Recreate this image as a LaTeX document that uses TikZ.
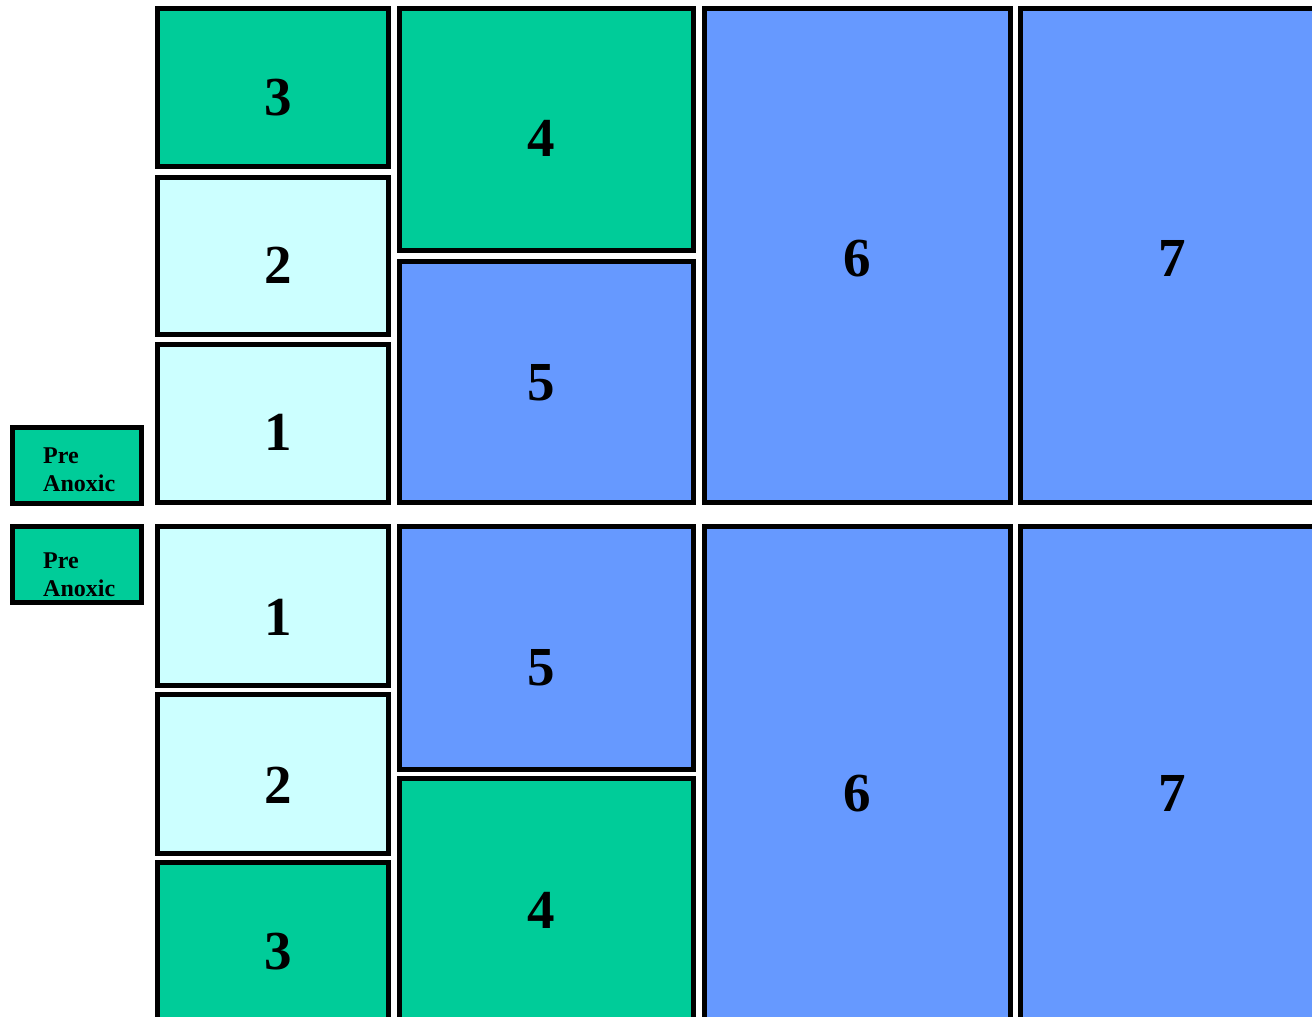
\documentclass[tikz,border=0pt]{standalone}
\usepackage{fontspec}
\setmainfont{Liberation Serif}
\definecolor{grn}{HTML}{00CC99}
\definecolor{cyn}{HTML}{CCFFFF}
\definecolor{blu}{HTML}{6699FF}
\tikzset{
  tank/.style={draw=black, line width=5pt},
  num/.style={font=\fontsize{55}{55}\selectfont\bfseries, inner sep=0pt, anchor=center},
  pre/.style={font=\fontsize{24}{24}\selectfont\bfseries, inner sep=0pt, anchor=base west}
}
\newcommand{\tankbox}[6]{% name, x1, y1, x2, y2, colour (outer coords)
  \path[tank, fill=#6] (#2+2.5,#3+2.5) rectangle (#4-2.5,#5-2.5);
  \coordinate (#1) at ({(#2+#4)/2},{(#3+#5)/2});
}
\begin{document}
\begin{tikzpicture}[x=1pt,y=-1pt]
\useasboundingbox (0,0) rectangle (1312,1017);
\clip (0,0) rectangle (1312,1017);
% ---------- upper train ----------
\tankbox{pa1}{10}{425}{144}{506}{grn}
\tankbox{u3}{155}{6}{391}{169}{grn}
\tankbox{u2}{155}{175}{391}{337}{cyn}
\tankbox{u1}{155}{342}{391}{505}{cyn}
\tankbox{u4}{397}{6}{696}{253}{grn}
\tankbox{u5}{397}{259}{696}{505}{blu}
\tankbox{u6}{702}{6}{1013}{505}{blu}
\tankbox{u7}{1018}{6}{1340}{505}{blu}
% ---------- lower train ----------
\tankbox{pa2}{10}{524}{144}{605}{grn}
\tankbox{l1}{155}{524}{391}{688}{cyn}
\tankbox{l2}{155}{692}{391}{856}{cyn}
\tankbox{l3}{155}{860}{391}{1040}{grn}
\tankbox{l5}{397}{524}{696}{772}{blu}
\tankbox{l4}{397}{776}{696}{1040}{grn}
\tankbox{l6}{702}{524}{1013}{1040}{blu}
\tankbox{l7}{1018}{524}{1340}{1040}{blu}
% ---------- labels ----------
\node[num] (tu3) at (278,98) {3};
\node[num] (tu2) at (278,265) {2};
\node[num] (tu1) at (278,432) {1};
\node[num] (tu4) at (541,138) {4};
\node[num] (tu5) at (541,383) {5};
\node[num] (tu6) at (857,259) {6};
\node[num] (tu7) at (1172,258) {7};
\node[num] (tl1) at (278,617) {1};
\node[num] (tl2) at (278,785) {2};
\node[num] (tl3) at (278,952) {3};
\node[num] (tl5) at (541,668) {5};
\node[num] (tl4) at (541,910) {4};
\node[num] (tl6) at (857,794) {6};
\node[num] (tl7) at (1172,793) {7};
\node[pre] (pa1a) at (43,463) {Pre};
\node[pre] (pa1b) at (43,491.7) {Anoxic};
\node[pre] (pa2a) at (43,568) {Pre};
\node[pre] (pa2b) at (43,596.7) {Anoxic};
\end{tikzpicture}
\end{document}
